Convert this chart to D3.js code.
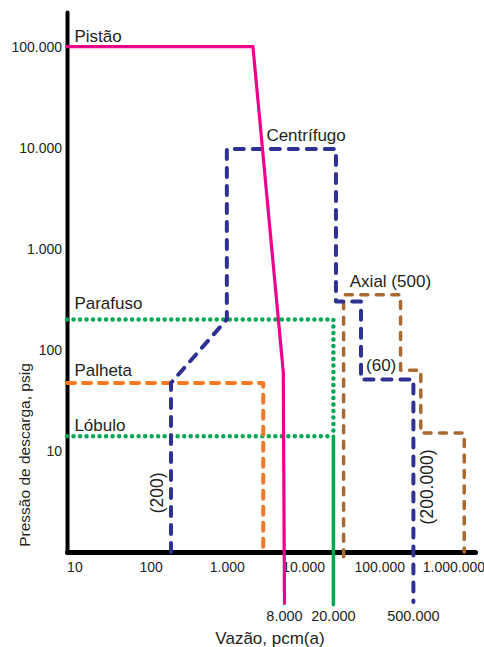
<!DOCTYPE html>
<html>
<head>
<meta charset="utf-8">
<script src="https://cdn.jsdelivr.net/npm/d3@7"></script>
<style>
  body { margin: 0; background: #fff; }
  text { font-family: "Liberation Sans", Arial, sans-serif; fill: #231f20; }
</style>
</head>
<body>
<div id="chart"></div>
<script>
"use strict";

// tick values of both log axes
var xTicks = [10, 100, 1000, 10000, 100000, 1000000];
var yTicks = [10, 100, 1000, 10000, 100000];

// compressor envelopes (flow in pcm(a), pressure in psig)
var pistaoFlow = [8, 2200, 5500, 5700];
var pistaoPressure = [100000, 100000, 60, 0.31];

var centrifugoFlow = [185, 185, 1000, 1000, 27000, 27000, 57500, 57500, 280000, 280000];
var centrifugoPressure = [1, 47, 200, 9700, 9700, 300, 300, 51, 51, 0.32];

var axialFlow = [34000, 34000, 190000, 190000, 350000, 350000, 1300000, 1300000];
var axialPressure = [0.9, 350, 350, 63, 63, 15, 15, 1];

var palhetaFlow = [8, 3000, 3000];
var palhetaPressure = [47, 47, 1];

var parafusoFlow = [8, 25000, 25000];
var parafusoPressure = [200, 200, 14];

var lobuloFlow = [8, 25000];
var lobuloPressure = [14, 14];

var lobuloLimitFlow = [25000, 25000];
var lobuloLimitPressure = [14, 0.3];

// text labels
var seriesLabels = ["Pistão", "Centrífugo", "Parafuso", "Palheta", "Lóbulo", "Axial (500)", "(60)"];
var seriesLabelFlow = [10, 3300, 10, 10, 10, 41000, 67000];
var seriesLabelPressure = [100000, 10000, 200, 47, 14, 350, 51];

var verticalLabels = ["(200)", "(200.000)"];
var verticalLabelFlow = [120, 420000];
var verticalLabelPressure = [3.84, 4.4];

var bottomLabels = ["8.000", "20.000", "500.000"];
var bottomLabelFlow = [5700, 25000, 280000];
var bottomLabelPressure = 0.21;

var W = 484, H = 647;

// portuguese number format: 100.000
var ptBR = d3.formatLocale({ decimal: ",", thousands: ".", grouping: [3], currency: ["R$", ""] });
var fmt = ptBR.format(",d");

var x = d3.scaleLog().domain([8, 1800000]).range([67, 475]);
var y = d3.scaleLog().domain([1, 220000]).range([552, 12]);

var svg = d3.select("#chart").append("svg")
  .attr("width", W)
  .attr("height", H);

svg.append("rect").attr("width", W).attr("height", H).attr("fill", "#fff");

// axes
var yAxis = d3.axisLeft(y).tickValues(yTicks).tickFormat(fmt).tickSize(0).tickPadding(5);
var xAxis = d3.axisBottom(x).tickValues(xTicks).tickFormat(fmt).tickSize(0).tickPadding(10);

var gy = svg.append("g")
  .attr("transform", "translate(" + x.range()[0] + ",0)")
  .call(yAxis);
gy.select(".domain").attr("stroke", "#000").attr("stroke-width", 4).attr("stroke-linecap", "round");
gy.selectAll("text").style("font-size", "14px").attr("fill", "#231f20");

var gx = svg.append("g")
  .attr("transform", "translate(0," + y.range()[0] + ")")
  .call(xAxis);
gx.select(".domain").attr("stroke", "#000").attr("stroke-width", 5).attr("stroke-linecap", "round");
gx.selectAll("text").style("font-size", "14px").attr("fill", "#231f20");
// last label sits against the right edge
gx.selectAll(".tick text").filter(function(d) { return d === 1000000; })
  .attr("text-anchor", "end")
  .attr("dx", "29px");

// axis titles
svg.append("text")
  .attr("x", 270).attr("y", 644)
  .attr("text-anchor", "middle")
  .style("font-size", "17px")
  .text("Vazão, pcm(a)");

svg.append("text")
  .attr("transform", "translate(30,455) rotate(-90)")
  .attr("text-anchor", "middle")
  .style("font-size", "15.5px")
  .text("Pressão de descarga, psig");

// series, drawn bottom to top
var series = [
  { flow: parafusoFlow, pressure: parafusoPressure, color: "#00a651", width: 4.5, dash: "0.01,6.5" },
  { flow: lobuloFlow, pressure: lobuloPressure, color: "#00a651", width: 4.5, dash: "0.01,6.5" },
  { flow: lobuloLimitFlow, pressure: lobuloLimitPressure, color: "#00a651", width: 3.5, dash: null },
  { flow: palhetaFlow, pressure: palhetaPressure, color: "#f47920", width: 4, dash: "8,8" },
  { flow: axialFlow, pressure: axialPressure, color: "#a86a32", width: 3.5, dash: "7,8.5" },
  { flow: centrifugoFlow, pressure: centrifugoPressure, color: "#2e3192", width: 4, dash: "9,9" },
  { flow: pistaoFlow, pressure: pistaoPressure, color: "#ec008c", width: 3.2, dash: null }
];

var line = d3.line()
  .x(function(d) { return x(d[0]); })
  .y(function(d) { return y(d[1]); });

series.forEach(function(s) {
  var pts = s.flow.map(function(f, i) { return [f, s.pressure[i]]; });
  svg.append("path")
    .datum(pts)
    .attr("d", line)
    .attr("fill", "none")
    .attr("stroke", s.color)
    .attr("stroke-width", s.width)
    .attr("stroke-linecap", "round")
    .attr("stroke-linejoin", "round")
    .attr("stroke-dasharray", s.dash);
});

// series names
var labelDy = [-5, -7, -10, -7, -5, -8, -8];
seriesLabels.forEach(function(t, i) {
  svg.append("text")
    .attr("x", x(seriesLabelFlow[i]))
    .attr("y", y(seriesLabelPressure[i]) + labelDy[i])
    .style("font-size", "17px")
    .text(t);
});

// rotated labels
verticalLabels.forEach(function(t, i) {
  svg.append("text")
    .attr("transform", "translate(" + x(verticalLabelFlow[i]) + "," + y(verticalLabelPressure[i]) + ") rotate(-90)")
    .attr("text-anchor", "middle")
    .attr("dy", "0.35em")
    .style("font-size", "17.5px")
    .text(t);
});

// flow limits under the axis
bottomLabels.forEach(function(t, i) {
  svg.append("text")
    .attr("x", x(bottomLabelFlow[i]))
    .attr("y", y(bottomLabelPressure))
    .attr("text-anchor", "middle")
    .style("font-size", "14.5px")
    .text(t);
});
</script>
</body>
</html>
